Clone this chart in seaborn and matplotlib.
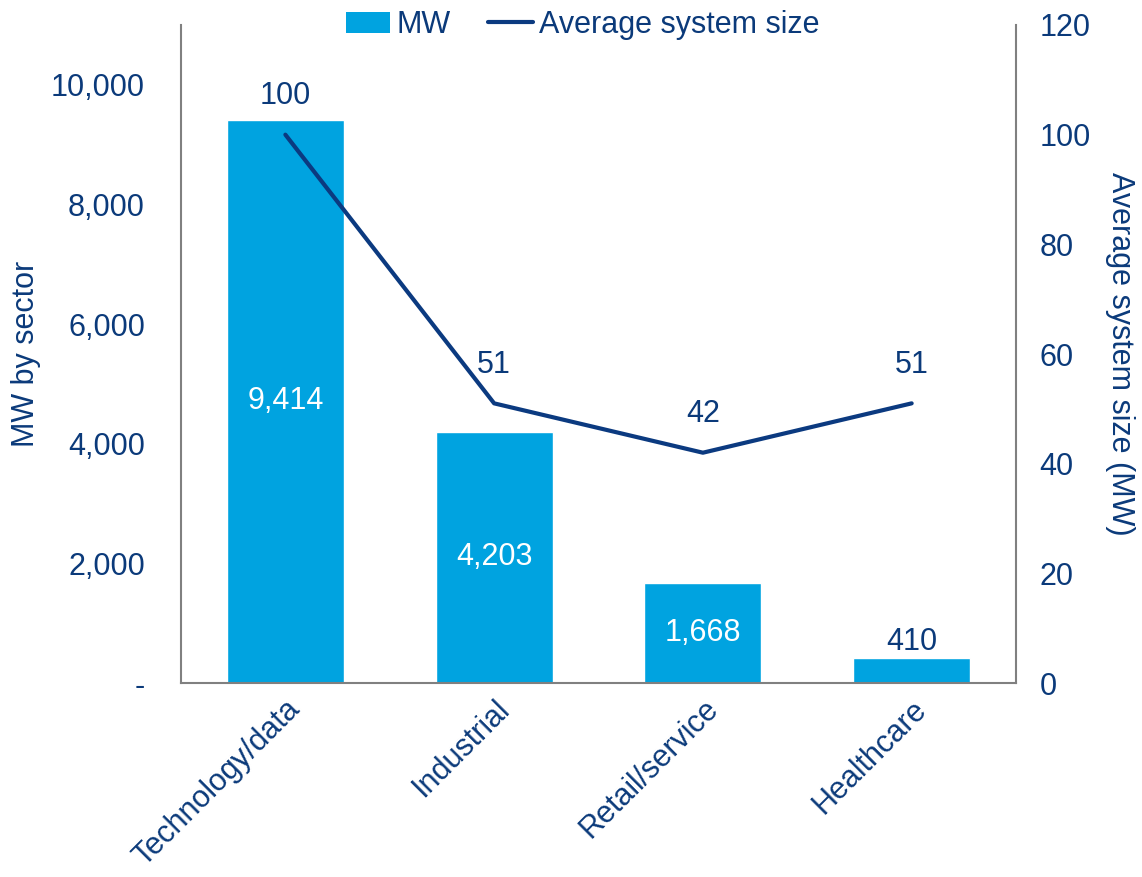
import matplotlib
matplotlib.use("Agg")
from matplotlib import pyplot as plt
from matplotlib.patches import Patch
from matplotlib.lines import Line2D
import seaborn as sns
import pandas as pd

# Chart data
sectors = ["Technology/data", "Industrial", "Retail/service", "Healthcare"]
mw_by_sector = [9414, 4203, 1668, 410]
avg_system_size = [100, 51, 42, 51]

bar_color = "#00A3E0"
line_color = "#0B3A80"
text_color = "#0B3A7A"
spine_color = "#808080"
fs = 22

sns.set_theme(style="white")
plt.rcParams['font.family'] = ['Liberation Sans', 'DejaVu Sans']

df = pd.DataFrame({"sector": sectors, "mw": mw_by_sector, "avg": avg_system_size})

fig = plt.figure(figsize=(11.42, 8.77), dpi=100)
ax = fig.add_axes([0.1585, 0.2212, 0.7312, 0.7503])

# Bars: MW by sector
sns.barplot(data=df, x="sector", y="mw", color=bar_color, width=0.56,
            saturation=1, ax=ax)
ax.set_xlim(-0.5, 3.5)
ax.set_ylim(0, 11000)
ax.set_yticks([0, 2000, 4000, 6000, 8000, 10000])
ax.set_yticklabels(["-", "2,000", "4,000", "6,000", "8,000", "10,000"])
ax.set_xlabel("")
ax.set_ylabel("MW by sector", fontsize=fs, color=text_color, labelpad=7)
ax.tick_params(axis="y", labelsize=fs, colors=text_color, length=0, pad=26)
ax.tick_params(axis="x", labelsize=fs, colors=text_color, length=0, pad=8)
plt.setp(ax.get_xticklabels(), rotation=45, ha="right", rotation_mode="anchor")

# Line: average system size on the right axis
ax2 = ax.twinx()
sns.lineplot(x=list(range(len(sectors))), y=avg_system_size, color=line_color,
             linewidth=3, ax=ax2)
ax2.set_ylim(0, 120)
ax2.set_yticks(range(0, 121, 20))
ax2.set_ylabel("Average system size (MW)", fontsize=fs, color=text_color,
               rotation=270, labelpad=32)
ax2.tick_params(axis="y", labelsize=fs, colors=text_color, length=0, pad=17)

for a in (ax, ax2):
    a.spines["top"].set_visible(False)
    for s in ("left", "right", "bottom"):
        a.spines[s].set_color(spine_color)
        a.spines[s].set_linewidth(1.5)
ax.spines["right"].set_visible(False)
ax2.spines["left"].set_visible(False)
ax2.spines["bottom"].set_visible(False)

# Bar value labels
for i, v in enumerate(mw_by_sector):
    label = f"{v:,}"
    if v > 1000:
        ax.text(i, v / 2, label, ha="center", va="center",
                fontsize=fs, color="white")
    else:
        ax.text(i, v + 30, label, ha="center", va="bottom", fontsize=fs,
                color=text_color)

# Line value labels
for i, v in enumerate(avg_system_size):
    ax2.annotate(f"{v}", (i, v), xytext=(0, 17), textcoords="offset points",
                 ha="center", va="bottom", fontsize=fs, color=text_color)

handles = [Patch(facecolor=bar_color, edgecolor="none"),
           Line2D([0], [0], color=line_color, linewidth=3)]
fig.legend(handles, ["MW", "Average system size"], loc="upper center",
           bbox_to_anchor=(0.51, 1.02), ncol=2, frameon=False, fontsize=fs,
           labelcolor=text_color, handlelength=1.45, handletextpad=0.2,
           columnspacing=1.25)

fig.savefig("out.png", dpi=100)
